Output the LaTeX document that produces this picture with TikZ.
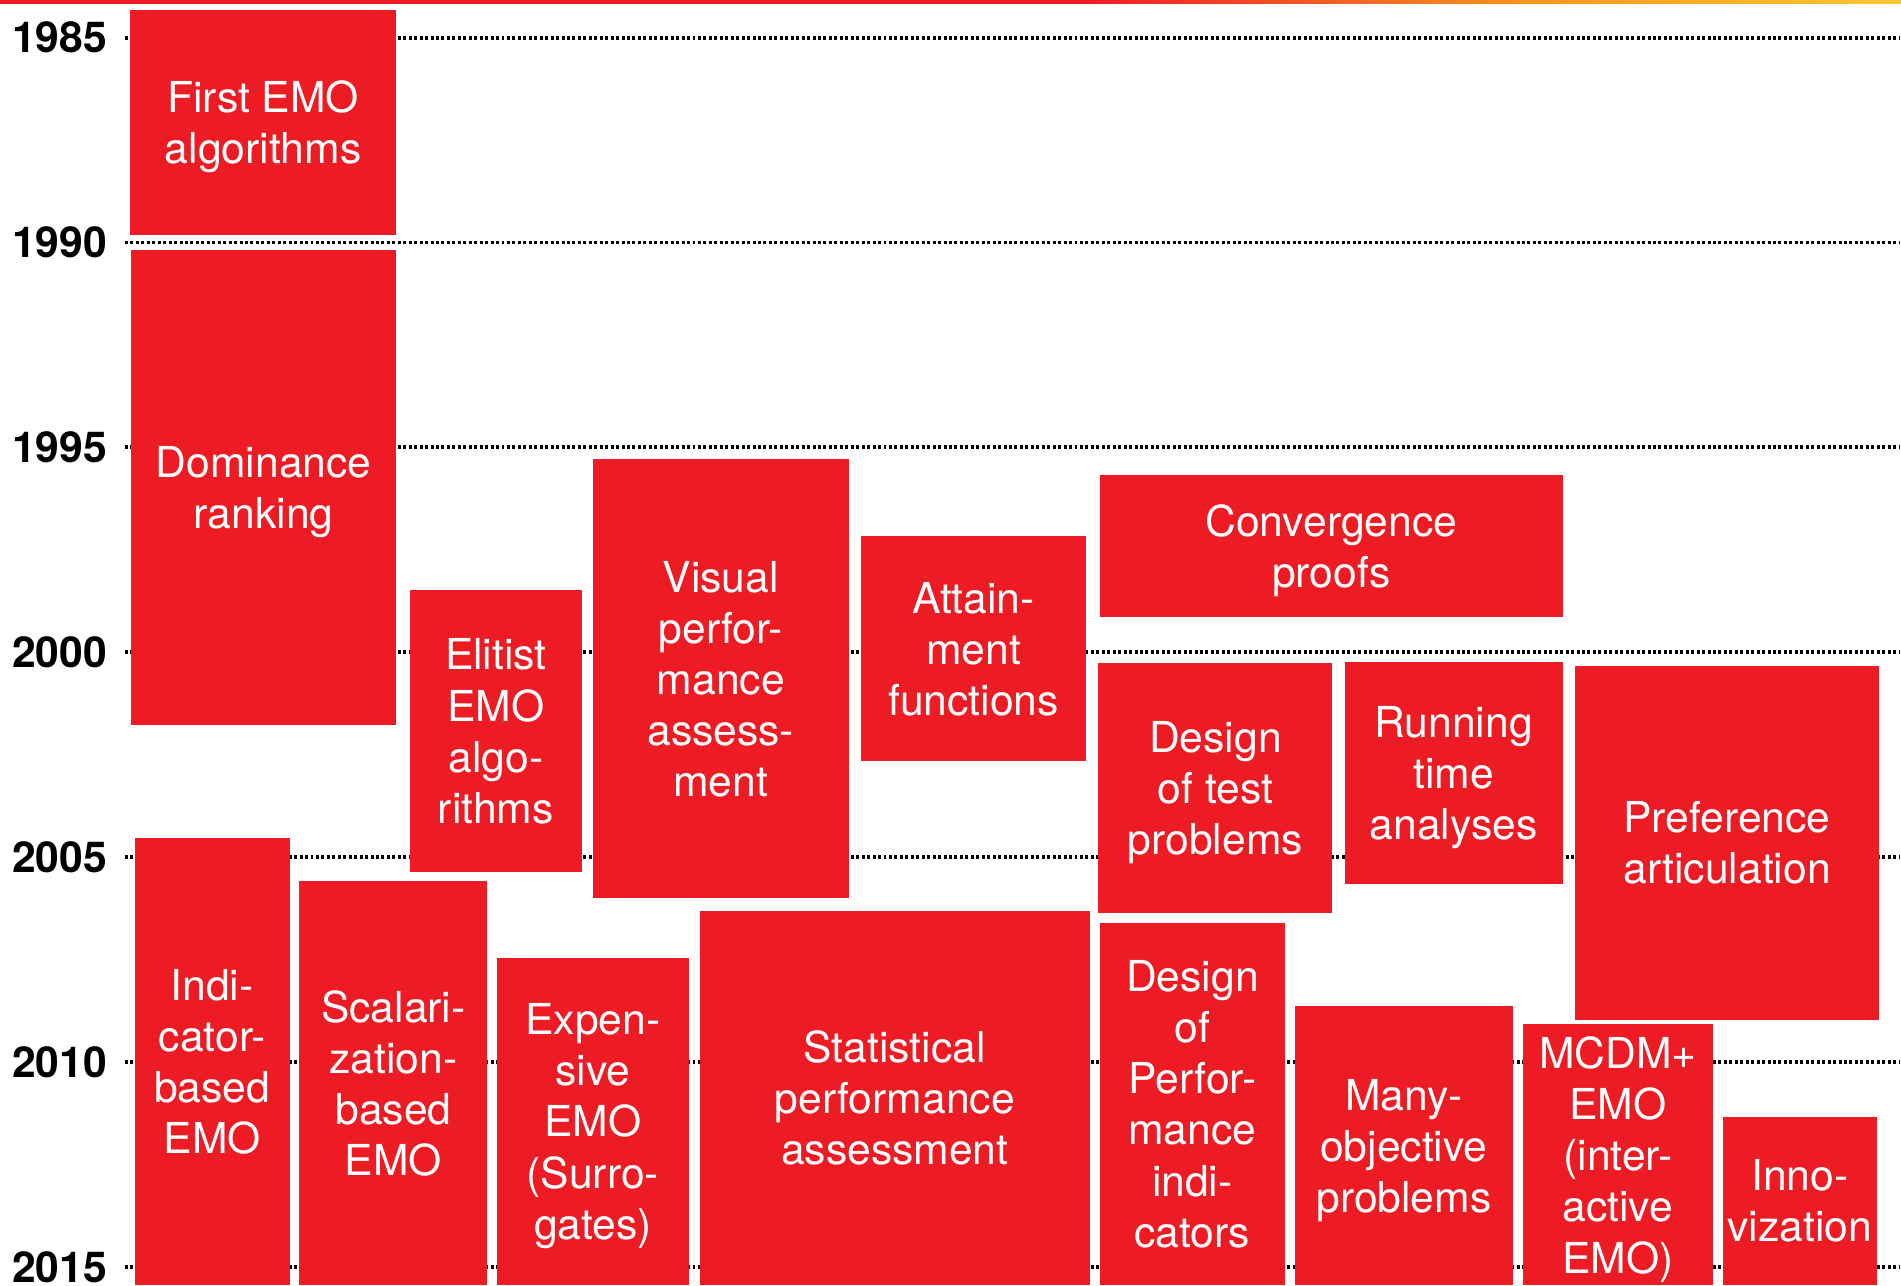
\documentclass[tikz,border=0pt]{standalone}
\usepackage{fontspec}
\setmainfont{TeX Gyre Heros}
\definecolor{emored}{HTML}{ED1C24}
\definecolor{emoorange}{HTML}{F7941D}
\definecolor{emoyellow}{HTML}{FDC82F}
\pgfdeclarehorizontalshading{emotop}{100bp}{color(0bp)=(emored); color(25bp)=(emored);
  color(53.5bp)=(emored); color(65bp)=(emoorange); color(75bp)=(emoyellow);
  color(100bp)=(emoyellow)}
\begin{document}
\begin{tikzpicture}
[x=0.01cm, y=-0.01cm,
  topicdecorate/.style={shape=rectangle,fill=emored,text=white,inner sep=0pt,
    align=center,text depth=-0.8pt,font=\fontsize{10}{12}\selectfont},
  yeardecorate/.style={anchor=east,inner sep=0pt,font=\fontsize{10}{12}\selectfont\bfseries},
  gridline/.style={line width=0.9pt,dash pattern=on 0.7pt off 0.58pt,shorten <=4pt}]
\useasboundingbox (0,0) rectangle (1568,1060);
%% top rule
\shade[shading=emotop] (0,0) rectangle (1568,2.5);
%% years and dotted lines
\foreach \yr/\y in {1985/31, 1990/200, 1995/369, 2000/538, 2005/707,
  2010/876, 2015/1045}
{
  \node (y\yr) at (89,\y) [yeardecorate] {\yr};
  \coordinate (g\yr) at (1566,\y);
  \draw[gridline] (y\yr.east) -- (g\yr);
}
%% topics
\foreach \nodename/\xa/\ya/\xb/\yb/\topic in {
  first/107/8/327/194/{First EMO\\algorithms},
  dominance/108/206/327/598/{Dominance\\ranking},
  elitist/338/487/480/719/{Elitist\\EMO\\algo-\\rithms},
  visual/489/379/700/741/{Visual\\perfor-\\mance\\assess-\\ment},
  attainment/710/442/896/628/{Attain-\\ment\\functions},
  convergence/907/392/1289/509/{Convergence\\proofs},
  testdesign/906/547/1099/753/{Design\\of test\\problems},
  runtime/1109/546/1289/729/{Running\\time\\analyses},
  preference/1299/549/1550/841/{Preference\\articulation},
  indicator/111/691/239/1060/{Indi-\\cator-\\based\\EMO},
  scalarization/247/727/402/1060/{Scalari-\\zation-\\based\\EMO},
  expensive/410/790/568/1060/{Expen-\\sive\\EMO\\(Surro-\\gates)},
  statistical/577/751/899/1060/{Statistical\\performance\\assessment},
  indicatordesign/907/761/1060/1060/{Design\\of\\Perfor-\\mance\\indi-\\cators},
  manyobj/1068/830/1248/1060/{Many-\\objective\\problems},
  mcdm/1256/845/1413/1060/{MCDM+\\EMO\\(inter-\\active\\EMO)},
  innovization/1421/921/1548/1060/{Inno-\\vization}}
{
  \node (\nodename) at ({(\xa+\xb)/2},{(\ya+\yb)/2}) [topicdecorate,
    minimum width={(\xb-\xa)*0.01cm}, minimum height={(\yb-\ya)*0.01cm}] {\topic};
}
\end{tikzpicture}
\end{document}
